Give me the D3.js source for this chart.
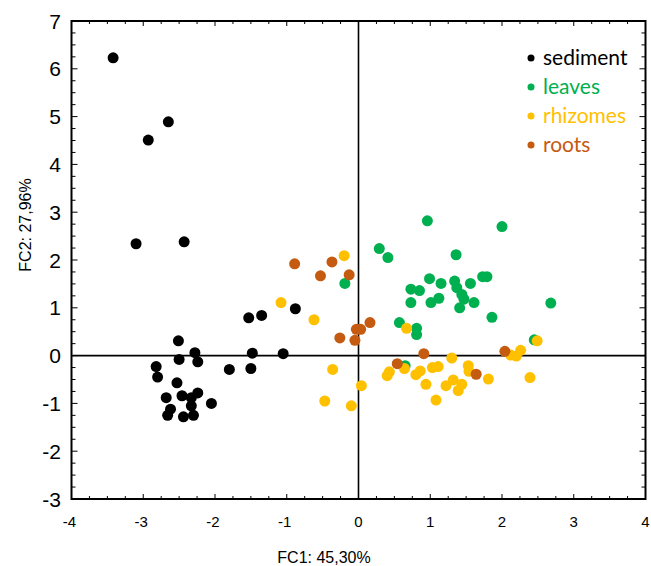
<!DOCTYPE html>
<html lang="en">
<head>
    <meta charset="UTF-8">
    <title>PCA scatter</title>
    <script src="https://d3js.org/d3.v7.min.js"></script>
    <style>
        body{margin:0;background:#fff;}
        text{font-family:"Liberation Sans",Arial,sans-serif;}
    </style>
</head>
<body>
<svg id="chart"></svg>
<script>
    //series values, [FC1, FC2]
    var sediment = [[-3.42,6.23],[-2.65,4.89],[-2.93,4.51],[-3.10,2.34],[-2.43,2.38],
        [-0.88,0.98],[-1.53,0.79],[-1.35,0.84],[-2.51,0.31],[-2.28,0.06],[-2.50,-0.08],
        [-2.24,-0.13],[-1.48,0.05],[-1.05,0.04],[-2.82,-0.23],[-2.80,-0.45],[-1.80,-0.29],
        [-1.50,-0.27],[-2.53,-0.57],[-2.68,-0.88],[-2.46,-0.84],[-2.33,-0.88],[-2.24,-0.78],
        [-2.33,-1.05],[-2.05,-1.00],[-2.62,-1.12],[-2.66,-1.25],[-2.44,-1.28],[-2.30,-1.25]];
    var leaves = [[0.96,2.82],[2.00,2.70],[0.29,2.24],[0.41,2.05],[1.36,2.11],[0.99,1.61],
        [1.15,1.51],[1.34,1.56],[1.56,1.51],[1.73,1.65],[1.79,1.65],[0.73,1.39],[0.85,1.36],
        [1.37,1.42],[1.44,1.28],[1.47,1.18],[1.12,1.20],[1.01,1.11],[0.73,1.11],[1.61,1.11],
        [1.41,1.00],[2.68,1.10],[1.86,0.80],[0.57,0.69],[0.81,0.57],[0.81,0.44],[2.45,0.33],
        [0.65,-0.21],[-0.19,1.51]];
    var rhizomes = [[-0.20,2.09],[-1.08,1.11],[-0.62,0.75],[-0.36,-0.29],[-0.47,-0.95],
        [-0.10,-1.05],[0.04,-0.63],[0.67,0.57],[2.49,0.31],[2.26,0.11],[2.20,-0.01],[2.12,0.01],
        [1.30,-0.05],[0.64,-0.27],[0.43,-0.34],[0.40,-0.42],[0.86,-0.32],[0.80,-0.40],
        [1.03,-0.25],[1.11,-0.23],[1.53,-0.21],[1.54,-0.33],[0.94,-0.60],[1.32,-0.51],
        [1.22,-0.63],[1.44,-0.60],[1.39,-0.73],[1.81,-0.49],[2.39,-0.46],[1.08,-0.93]];
    var roots = [[-0.89,1.92],[-0.37,1.96],[-0.53,1.67],[-0.13,1.69],[-0.26,0.37],
        [-0.05,0.32],[-0.03,0.55],[0.03,0.55],[0.16,0.69],[0.91,0.04],[0.54,-0.17],
        [1.64,-0.39],[2.04,0.09]];

    var seriesNames = ["sediment","leaves","rhizomes","roots"];
    var seriesColors = ["#000000","#00b050","#ffc000","#c55a11"];
    var xTicks = [-4,-3,-2,-1,0,1,2,3,4];
    var yTicks = [-3,-2,-1,0,1,2,3,4,5,6,7];

    var width = 651, height = 566;
    var margin = {left:71.5, right:5.5, top:21, bottom:67};

    var svg = d3.select("#chart").attr("width",width).attr("height",height);

    var x = d3.scaleLinear().domain([-4,4]).range([margin.left,width-margin.right]);
    var y = d3.scaleLinear().domain([-3,7]).range([height-margin.bottom,margin.top]);

    //minor ticks every 0.25
    var xMinor = d3.range(-4,4.001,0.25);
    var yMinor = d3.range(-3,7.001,0.25);
    function isMajor(v){return Math.abs(v-Math.round(v))<1e-6;}

    var ticks = svg.append("g").attr("stroke","#000").attr("stroke-width",1);
    xMinor.forEach(function(v){
        var len = isMajor(v) ? 5 : 3;
        ticks.append("line").attr("x1",x(v)).attr("x2",x(v))
            .attr("y1",y(-3)).attr("y2",y(-3)-len);
        ticks.append("line").attr("x1",x(v)).attr("x2",x(v))
            .attr("y1",y(7)).attr("y2",y(7)+len);
    });
    yMinor.forEach(function(v){
        var len = isMajor(v) ? 6 : 4;
        ticks.append("line").attr("y1",y(v)).attr("y2",y(v))
            .attr("x1",x(-4)).attr("x2",x(-4)+len);
        ticks.append("line").attr("y1",y(v)).attr("y2",y(v))
            .attr("x1",x(4)).attr("x2",x(4)-len);
    });

    //tick labels
    svg.append("g").selectAll("text").data(xTicks).enter().append("text")
        .attr("x",function(d){return x(d)-(d<0?2:0);})
        .attr("y",527)
        .attr("text-anchor","middle")
        .attr("font-size",15)
        .text(function(d){return d;});
    svg.append("g").selectAll("text").data(yTicks).enter().append("text")
        .attr("x",61)
        .attr("y",function(d){return y(d)+7.5;})
        .attr("text-anchor","end")
        .attr("font-size",21)
        .text(function(d){return d;});

    //zero lines
    svg.append("line").attr("x1",x(-4)).attr("x2",x(4)).attr("y1",y(0)).attr("y2",y(0))
        .attr("stroke","#000").attr("stroke-width",1.6);
    svg.append("line").attr("x1",x(0)).attr("x2",x(0)).attr("y1",y(-3)).attr("y2",y(7))
        .attr("stroke","#000").attr("stroke-width",1.6);

    //points
    var allSeries = [sediment,leaves,rhizomes,roots];
    allSeries.forEach(function(s,i){
        svg.append("g").selectAll("circle").data(s).enter().append("circle")
            .attr("cx",function(d){return x(d[0]);})
            .attr("cy",function(d){return y(d[1]);})
            .attr("r",5.5)
            .attr("fill",seriesColors[i]);
    });

    //frame
    svg.append("rect").attr("x",x(-4)).attr("y",y(7))
        .attr("width",x(4)-x(-4)).attr("height",y(-3)-y(7))
        .attr("fill","none").attr("stroke","#000").attr("stroke-width",2);

    //legend
    var legend = svg.append("g").attr("transform","translate(531,58)");
    seriesNames.forEach(function(n,i){
        var g = legend.append("g").attr("transform","translate(0,"+(i*29)+")");
        g.append("circle").attr("r",3.5).attr("fill",seriesColors[i]);
        g.append("text").attr("x",12).attr("y",7)
            .attr("font-size",21)
            .style("font-family","Lato, 'Open Sans', sans-serif")
            .attr("fill",seriesColors[i])
            .text(n);
    });

    //axis titles
    svg.append("text").attr("x",324).attr("y",563).attr("text-anchor","middle")
        .attr("font-size",16).text("FC1: 45,30%");
    svg.append("text").attr("transform","translate(31,225) rotate(-90)")
        .attr("text-anchor","middle").attr("font-size",16).text("FC2: 27,96%");
</script>
</body>
</html>
